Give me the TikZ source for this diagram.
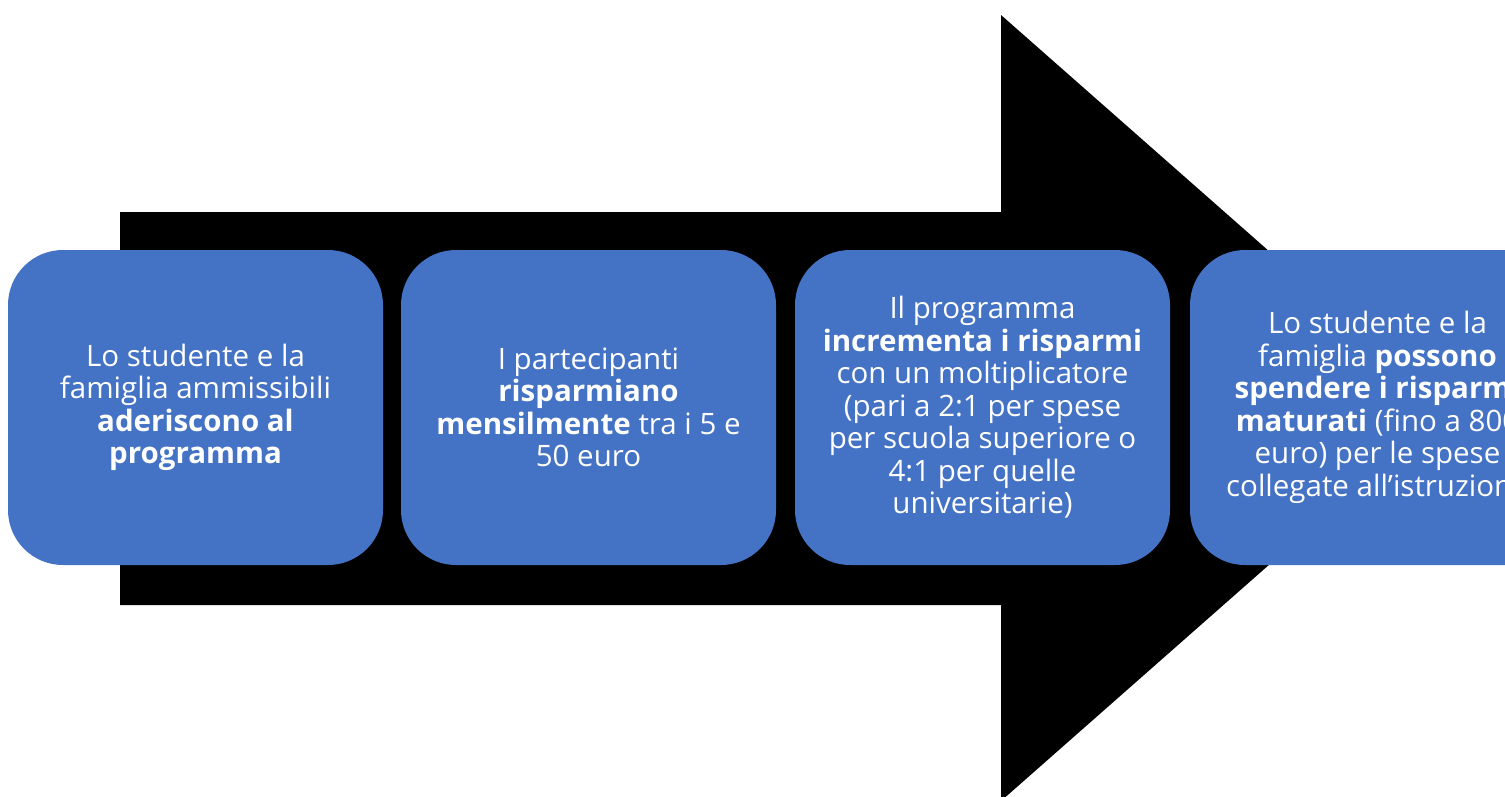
\documentclass[tikz,border=0pt]{standalone}
\usepackage{fontspec}
\setmainfont{Open Sans}
\definecolor{boxblue}{HTML}{4472C4}
\tikzset{
  stepbox/.style={fill=boxblue, draw=none, rounded corners=55pt, minimum width=375pt, minimum height=315pt, text=white, align=center, inner sep=0pt, font=\fontsize{29.5}{32.5}\selectfont},
  arrowshape/.style={fill=black, draw=none}
}
\begin{document}
\begin{tikzpicture}[x=1pt,y=-1pt]
\useasboundingbox (0,0) rectangle (1505,796);
\clip (0,0) rectangle (1505,796);
\fill[white] (0,0) rectangle (1505,796);
\fill[arrowshape] (120,212) -- (1001,212) -- (1001,15) -- (1447,408) -- (1001,801) -- (1001,605) -- (120,605) -- cycle;
\node[stepbox] (b1) at (195.5,407.5) {Lo studente e la\\famiglia ammissibili\\\textbf{aderiscono al}\\\textbf{programma}};
\node[stepbox] (b2) at (588.5,407.5) {I partecipanti\\\textbf{risparmiano}\\\textbf{mensilmente} tra i 5 e\\50 euro};
\node[stepbox] (b3) at (982.5,407.5) {Il programma\\\textbf{incrementa i risparmi}\\con un moltiplicatore\\(pari a 2:1 per spese\\per scuola superiore o\\4:1 per quelle\\universitarie)};
\node[stepbox] (b4) at (1377.5,407.5) {Lo studente e la\\famiglia \textbf{possono}\\\textbf{spendere i risparmi}\\\textbf{maturati} (fino a 800\\euro) per le spese\\collegate all’istruzione};
\end{tikzpicture}
\end{document}
